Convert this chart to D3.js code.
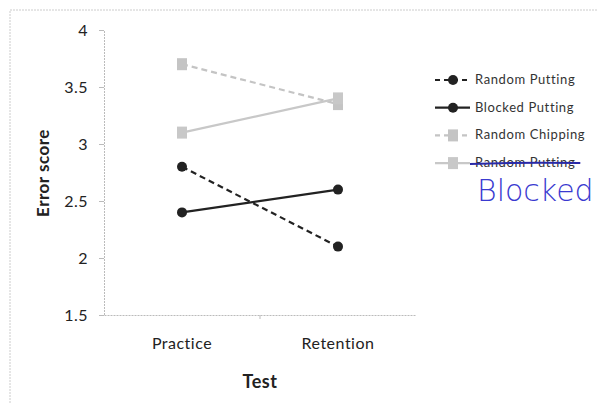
<!DOCTYPE html>
<html><head><meta charset="utf-8">
<script src="https://cdn.jsdelivr.net/npm/d3@7"></script>
<style>body{margin:0;background:#fff}svg{display:block}text{font-family:Lato,"Open Sans",sans-serif}</style>
</head><body><svg id="c" width="598" height="403"></svg>
<script>
const categories = ["Practice","Retention"];
const yTicks = [1.5,2,2.5,3,3.5,4];
const seriesNames = ["Random Putting","Blocked Putting","Random Chipping","Random Putting"];
const randomPutting = [2.8,2.1];
const blockedPutting = [2.4,2.6];
const randomChipping = [3.7,3.35];
const blockedChipping = [3.1,3.4];
const handNote = "Blocked";

const series = [
  {name:seriesNames[0], values:randomPutting, color:"#222", dash:"6,4", marker:"circle"},
  {name:seriesNames[1], values:blockedPutting, color:"#222", dash:null, marker:"circle"},
  {name:seriesNames[2], values:randomChipping, color:"#c4c4c4", dash:"6,4", marker:"square"},
  {name:seriesNames[3], values:blockedChipping, color:"#c8c8c8", dash:null, marker:"square", struck:true}
];

const svg = d3.select("#c");
// frame
svg.append("path").attr("d","M10,403V10H598").attr("fill","none").attr("stroke","#ccc").attr("stroke-dasharray","2,1");

const x = d3.scaleBand().domain(categories).range([104,416]);
const y = d3.scaleLinear().domain([1.5,4]).range([315,30]);

const gy = svg.append("g").attr("transform","translate(104,0)")
  .call(d3.axisLeft(y).tickValues(yTicks).tickFormat(d3.format("")).tickSize(5).tickPadding(11));
const gx = svg.append("g").attr("transform","translate(0,315)")
  .call(d3.axisBottom(x).tickSize(0).tickPadding(23));
[gy,gx].forEach(g=>{
  g.select(".domain").attr("stroke","#bbb").attr("stroke-dasharray","2,1");
  g.selectAll(".tick line").attr("stroke","#bbb");
  g.selectAll("text").attr("fill","#222").style("font-size","16px").style("letter-spacing","0.5px").style("font-family","Lato,sans-serif");
});
// middle tick on x axis
svg.append("line").attr("x1",x.range()[0]+x.bandwidth()).attr("x2",x.range()[0]+x.bandwidth()).attr("y1",315).attr("y2",319).attr("stroke","#bbb");

svg.append("text").attr("transform","translate(49,173) rotate(-90)").attr("text-anchor","middle")
  .style("font-size","17px").style("font-weight","bold").style("letter-spacing","0.5px").attr("fill","#222").text("Error score");
svg.append("text").attr("x",260).attr("y",388).attr("text-anchor","middle")
  .style("font-size","18px").style("font-weight","bold").style("letter-spacing","0.5px").attr("fill","#222").text("Test");

const cx = d => x(d) + x.bandwidth()/2;
const line = d3.line().x((v,i)=>cx(categories[i])).y(v=>y(v));

// draw grey first then black
const order = [2,3,0,1];
order.forEach(k=>{
  const s = series[k];
  const g = svg.append("g");
  g.append("path").attr("d",line(s.values)).attr("fill","none").attr("stroke",s.color)
    .attr("stroke-width",2.2).attr("stroke-dasharray",s.dash);
  s.values.forEach((v,i)=>{
    if(s.marker==="circle") g.append("circle").attr("cx",cx(categories[i])).attr("cy",y(v)).attr("r",5).attr("fill","#222");
    else g.append("rect").attr("x",cx(categories[i])-5).attr("y",y(v)-6).attr("width",10).attr("height",12).attr("fill",s.color);
  });
});

// legend
const lg = svg.append("g");
series.forEach((s,i)=>{
  const ly = 80 + i*27.7;
  lg.append("line").attr("x1",435).attr("x2",470).attr("y1",ly).attr("y2",ly).attr("stroke",s.color)
    .attr("stroke-width",2.2).attr("stroke-dasharray",s.dash ? "5,4" : null);
  if(s.marker==="circle") lg.append("circle").attr("cx",453).attr("cy",ly).attr("r",5).attr("fill","#222");
  else lg.append("rect").attr("x",448).attr("y",ly-6).attr("width",10).attr("height",12).attr("fill",s.color);
  const t = lg.append("text").attr("x",475).attr("y",ly+4).style("font-size","13px").style("letter-spacing","0.6px").attr("fill","#333").text(s.name);
  if(s.struck){
    const w = t.node().getComputedTextLength();
    lg.append("path").attr("d",`M470,${ly+1}Q${470+w/2},${ly-1} ${480+w},${ly}`).attr("fill","none")
      .attr("stroke","#2a2aa8").attr("stroke-width",2);
  }
});
svg.append("text").attr("x",477).attr("y",201).style("font-size","30px").style("font-weight","300")
  .style("font-family","'DejaVu Sans',sans-serif").style("letter-spacing","0px")
  .attr("fill","#3a3ad0").text(handNote);
</script></body></html>
